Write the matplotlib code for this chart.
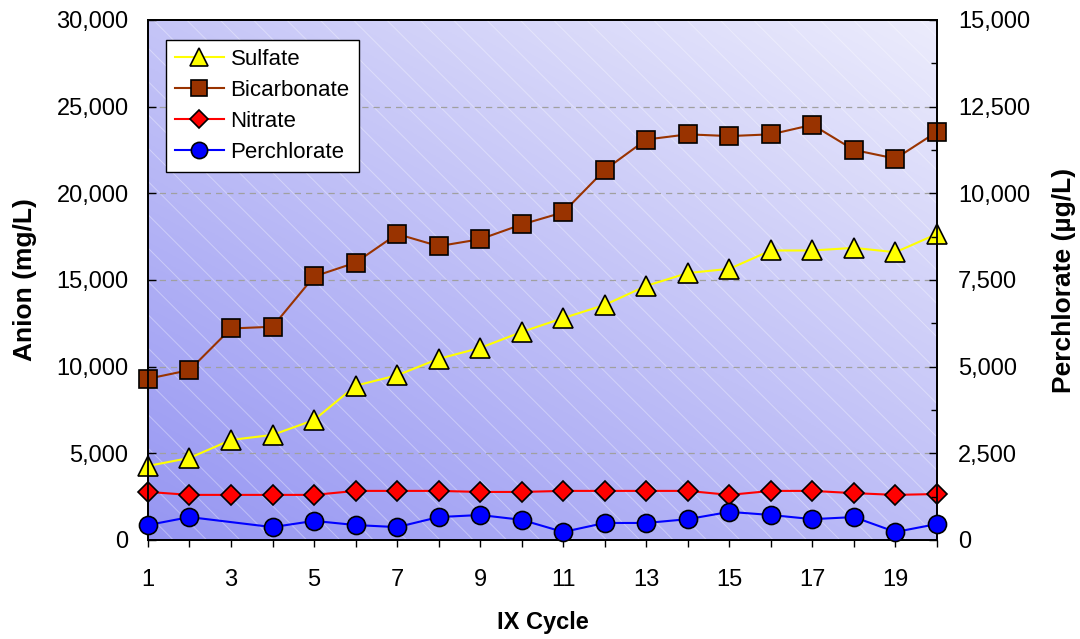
import numpy as np
import matplotlib
matplotlib.use('Agg')
import matplotlib.pyplot as plt
from matplotlib.ticker import FuncFormatter, MultipleLocator
from matplotlib.patches import Rectangle

plt.rcParams['font.family'] = ['Liberation Sans', 'DejaVu Sans']
plt.rcParams['hatch.linewidth'] = 0.7

cycle = list(range(1, 21))
sulfate = [4270, 4730, 5770, 6060, 6920, 8900, 9500, 10450, 11080, 12000,
           12800, 13560, 14660, 15400, 15640, 16700, 16700, 16850, 16600, 17650]
bicarbonate = [9300, 9800, 12200, 12300, 15200, 16000, 17650, 16950, 17350, 18200,
               18900, 21350, 23100, 23400, 23300, 23400, 23950, 22500, 22000, 23550]
nitrate = [2770, 2600, 2600, 2600, 2600, 2830, 2830, 2830, 2770, 2770,
           2830, 2830, 2830, 2830, 2600, 2830, 2830, 2700, 2600, 2650]
# perchlorate has no value at cycle 3
perc_cycle = [1, 2, 4, 5, 6, 7, 8, 9, 10, 11, 12, 13, 14, 15, 16, 17, 18, 19, 20]
perchlorate = [430, 660, 370, 550, 430, 370, 660, 720, 580, 230,
               490, 490, 600, 810, 720, 600, 660, 230, 460]

fig = plt.figure(figsize=(10.8, 6.39), dpi=100)
ax = fig.add_axes([0.137, 0.155, 0.7306, 0.8138])
ax2 = ax.twinx()

ax.set_xlim(1, 20)
ax.set_ylim(0, 30000)
ax2.set_ylim(0, 15000)

# gradient background (blue bottom-left -> lavender top-right)
gx, gy = np.meshgrid(np.linspace(0, 1, 200), np.linspace(0, 1, 200))
t = (gx * 0.45 + gy * 0.55)
c0 = np.array([150, 150, 242]) / 255
c1 = np.array([236, 236, 252]) / 255
img = c0[None, None, :] * (1 - t[..., None]) + c1[None, None, :] * t[..., None]
ax.imshow(img, extent=[1, 20, 0, 30000], origin='lower', aspect='auto', zorder=0)
ax.add_patch(Rectangle((1, 0), 19, 30000, facecolor='none', edgecolor=(1, 1, 1, 0.35),
                       lw=0, hatch='\\', zorder=0.5))

for yv in range(5000, 30000, 5000):
    ax.axhline(yv, color='#a0a0a0', lw=0.9, ls=(0, (5, 4)), zorder=1)

l1, = ax.plot(cycle, sulfate, color='#ffff00', lw=1.5, marker='^', ms=14,
              mfc='#ffff00', mec='black', mew=1.2, label='Sulfate', zorder=3, clip_on=False)
l2, = ax.plot(cycle, bicarbonate, color='#993300', lw=1.5, marker='s', ms=12.5,
              mfc='#993300', mec='black', mew=1.2, label='Bicarbonate', zorder=3, clip_on=False)
l3, = ax.plot(cycle, nitrate, color='#ff0000', lw=1.5, marker='D', ms=10,
              mfc='#ff0000', mec='black', mew=1.2, label='Nitrate', zorder=3, clip_on=False)
l4, = ax2.plot(perc_cycle, perchlorate, color='#0000ff', lw=1.5, marker='o', ms=13,
               mfc='#0000ff', mec='black', mew=1.2, label='Perchlorate', zorder=3, clip_on=False)

fmt = FuncFormatter(lambda v, p: '{:,.0f}'.format(v))
ax.yaxis.set_major_locator(MultipleLocator(5000))
ax.yaxis.set_major_formatter(fmt)
ax2.yaxis.set_major_locator(MultipleLocator(2500))
ax2.yaxis.set_minor_locator(MultipleLocator(1250))
ax2.yaxis.set_major_formatter(fmt)

ax.xaxis.set_minor_locator(MultipleLocator(1))
ax.set_xticks(range(1, 21, 2))

ax.tick_params(axis='y', direction='in', length=6, width=1, labelsize=17, pad=14)
ax2.tick_params(axis='y', which='major', direction='in', length=6, width=1, labelsize=17, pad=15)
ax2.tick_params(axis='y', which='minor', direction='in', length=4, width=1)
ax.tick_params(axis='x', which='both', direction='out', length=5, width=1, labelsize=17, pad=16)

for a in (ax, ax2):
    for s in a.spines.values():
        s.set_linewidth(1.3)
        s.set_color('black')

ax.set_ylabel('Anion (mg/L)', fontsize=19, fontweight='bold', labelpad=14)
ax2.set_ylabel('Perchlorate (\u00b5g/L)', fontsize=19, fontweight='bold', labelpad=16)
ax.set_xlabel('IX Cycle', fontsize=17, fontweight='bold', labelpad=14)

leg = ax2.legend(handles=[l1, l2, l3, l4], loc='upper left', bbox_to_anchor=(0.023, 0.9615),
                 borderaxespad=0, fontsize=16, frameon=True, fancybox=False, edgecolor='black',
                 framealpha=1, borderpad=0.4, labelspacing=0.45, handlelength=2.2,
                 handletextpad=0.3, markerscale=0.9)
leg.get_frame().set_linewidth(1)

fig.savefig('out.png', dpi=100)
